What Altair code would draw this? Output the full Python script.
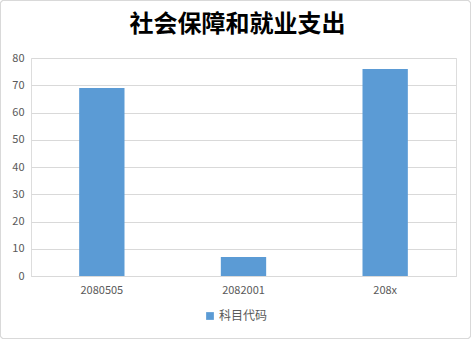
import altair as alt
import pandas as pd

categories = ["2080505", "2082001", "208x"]
values = [69, 7, 76]
series_name = "科目代码"
title_text = "社会保障和就业支出"

df = pd.DataFrame({"科目": categories, "值": values, "系列": [series_name] * len(categories)})

font = "Noto Sans CJK SC"

bars = alt.Chart(df).mark_bar(color="#5b9bd5").encode(
    x=alt.X("科目:N", sort=categories, title=None,
            scale=alt.Scale(paddingInner=0.68, paddingOuter=0.34),
            axis=alt.Axis(labelAngle=0, labelColor="#595959", labelFontSize=11,
                          labelFont=font, domainColor="#d9d9d9", ticks=False,
                          labelPadding=8, grid=False)),
    y=alt.Y("值:Q", title=None,
            scale=alt.Scale(domain=[0, 80]),
            axis=alt.Axis(values=[0, 10, 20, 30, 40, 50, 60, 70, 80], labelColor="#595959",
                          labelFontSize=11, labelFont=font, domain=False, ticks=False,
                          gridColor="#d9d9d9", labelPadding=7)),
    fill=alt.Fill("系列:N", scale=alt.Scale(range=["#5b9bd5"]),
                  legend=alt.Legend(title=None, orient="none", legendX=173, legendY=252,
                                    symbolType="square", symbolSize=60, labelOffset=3,
                                    labelFont=font, labelFontSize=12, labelColor="#595959",
                                    symbolStrokeWidth=0)),
)

border = alt.Chart(df).mark_rect(fill=None, stroke="#d9d9d9", strokeWidth=1, cornerRadius=3).encode(
    x=alt.value(-30.5), x2=alt.value(439.5), y=alt.value(-57.5), y2=alt.value(280.5)
)

chart = alt.layer(border, bars).properties(
    width=425, height=218,
    title=alt.TitleParams(title_text, font=font, fontSize=24, fontWeight="bold",
                          color="#000000", anchor="middle", frame="group", offset=12,
                          dx=-6, dy=49),
    autosize=alt.AutoSizeParams(type="none"),
    padding={"left": 31, "top": 58, "right": 15, "bottom": 63},
).configure_view(stroke=None).configure(background="white")

chart.save("out.html", embed_options={"renderer": "svg", "actions": False})
